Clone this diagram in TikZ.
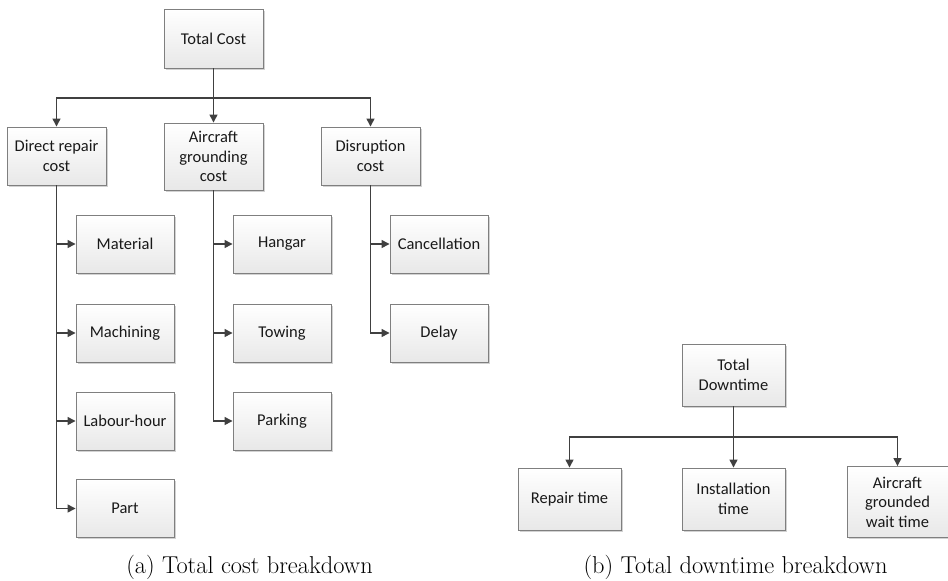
\documentclass[tikz,border=0pt]{standalone}
\usepackage{fontspec}
\newfontfamily\boxfont{Carlito}
\usetikzlibrary{arrows.meta,shadows}
\definecolor{linec}{HTML}{404040}
\definecolor{borderc}{HTML}{7F7F7F}
\tikzset{
  boxnode/.style={draw=borderc, line width=0.9pt, top color=white, bottom color=black!9,
    drop shadow={shadow xshift=1.8pt, shadow yshift=-1.8pt, fill=black!35, opacity=0.5},
    align=center, inner sep=2pt, font=\boxfont\fontsize{16.5}{19.5}\selectfont,
    text=black!90},
  arr/.style={draw=linec, line width=1.3pt, -{Triangle[length=8pt,width=8pt]}},
  captext/.style={font=\fontsize{24.4}{28}\selectfont, anchor=base, inner sep=0pt}
}
\begin{document}
\begin{tikzpicture}[x=1pt,y=-1pt]
\useasboundingbox (0,0) rectangle (948,581);
% (a) tree
\node[boxnode, minimum width=99pt, minimum height=59pt] (tc) at (213.5,38.5) {Total Cost};
\node[boxnode, minimum width=99pt, minimum height=58pt] (drc) at (56.5,156) {Direct repair\\cost};
\node[boxnode, minimum width=99pt, minimum height=67pt] (agc) at (213.5,156.5) {Aircraft\\grounding\\cost};
\node[boxnode, minimum width=99pt, minimum height=58pt] (dc) at (370.5,156) {Disruption\\cost};
\node[boxnode, minimum width=98pt, minimum height=58pt] (mat) at (125,244) {Material};
\node[boxnode, minimum width=98pt, minimum height=58pt] (mac) at (125,333) {Machining};
\node[boxnode, minimum width=98pt, minimum height=58pt] (lab) at (125,421) {Labour-hour};
\node[boxnode, minimum width=98pt, minimum height=58pt] (part) at (125,508.5) {Part};
\node[boxnode, minimum width=98pt, minimum height=58pt] (han) at (282,244) {Hangar};
\node[boxnode, minimum width=98pt, minimum height=58pt] (tow) at (282,333) {Towing};
\node[boxnode, minimum width=98pt, minimum height=58pt] (par) at (282,421) {Parking};
\node[boxnode, minimum width=98pt, minimum height=58pt] (can) at (439,244) {Cancellation};
\node[boxnode, minimum width=98pt, minimum height=58pt] (del) at (439,333) {Delay};
\coordinate (busa) at (213.5,98);
\draw[arr] (tc.south) -- (busa) -| (drc.north);
\draw[arr] (busa) -| (dc.north);
\draw[arr] (tc.south) -- (agc.north);
\draw[arr] (drc.south) |- (mat.west);
\draw[arr] (drc.south) |- (mac.west);
\draw[arr] (drc.south) |- (lab.west);
\draw[arr] (drc.south) |- (part.west);
\draw[arr] (agc.south) |- (han.west);
\draw[arr] (agc.south) |- (tow.west);
\draw[arr] (agc.south) |- (par.west);
\draw[arr] (dc.south) |- (can.west);
\draw[arr] (dc.south) |- (del.west);
% (b) tree
\node[boxnode, minimum width=103pt, minimum height=62pt] (td) at (733.5,375) {Total\\Downtime};
\node[boxnode, minimum width=103pt, minimum height=62pt] (rt) at (569.5,499) {Repair time};
\node[boxnode, minimum width=103pt, minimum height=62pt] (it) at (733.5,499) {Installation\\time};
\node[boxnode, minimum width=101pt, minimum height=71pt] (agw) at (897.5,502) {Aircraft\\grounded\\wait time};
\coordinate (busb) at (733.5,437);
\draw[arr] (td.south) -- (busb) -| (rt.north);
\draw[arr] (busb) -| (agw.north);
\draw[arr] (td.south) -- (it.north);
% captions
\node[captext] (capa) at (249.5,573) {(a) Total cost breakdown};
\node[captext] (capb) at (735.5,573) {(b) Total downtime breakdown};
\end{tikzpicture}
\end{document}
